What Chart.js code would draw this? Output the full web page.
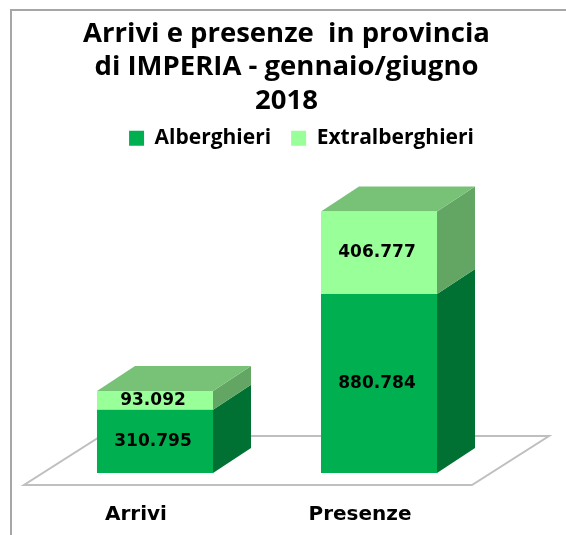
<!DOCTYPE html>
<html>
<head>
<meta charset="utf-8">
<script src="https://cdn.jsdelivr.net/npm/chart.js@4"></script>
<style>
    html, body { margin: 0; padding: 0; background: #fff; }
    canvas { display: block; }
</style>
</head>
<body>
<canvas id="chart" width="566" height="535"></canvas>
<script>
const categories = ["Arrivi", "Presenze"];
const alberghieri = [310795, 880784];
const extralberghieri = [93092, 406777];

const TITLE_LINES = ["Arrivi e presenze  in provincia", "di IMPERIA - gennaio/giugno", "2018"];
const DEPTH_X = 38;
const DEPTH_Y = 25;
const sideColors = ["#007033", "#63A563"];
const TOP_COLOR = "#78C278";

function fillPoly(ctx, color, pts) {
    ctx.fillStyle = color;
    ctx.beginPath();
    pts.forEach((p, i) => i ? ctx.lineTo(p[0], p[1]) : ctx.moveTo(p[0], p[1]));
    ctx.closePath();
    ctx.fill();
}

const box3d = {
    id: "box3d",
    afterLayout(chart) {
        // the legend sits right of the title and tight under it in the original
        chart.legend.left += 15;
        chart.legend.right += 15;
        chart.legend.top -= 10;
    },
    beforeDraw(chart) {
        const ctx = chart.ctx;
        ctx.save();
        ctx.strokeStyle = "#a6a6a6";
        ctx.lineWidth = 2;
        ctx.beginPath();
        ctx.moveTo(11, 535);
        ctx.lineTo(11, 10);
        ctx.lineTo(566, 10);
        ctx.stroke();
        ctx.restore();
    },
    beforeDatasetsDraw(chart) {
        const ctx = chart.ctx;
        const xs = chart.scales.x;
        const zero = chart.scales.y.getPixelForValue(0);
        const fy = zero + 12, by = zero - 37;
        const fl = xs.left - 19, fr = xs.right - 19;

        // floor
        ctx.save();
        ctx.strokeStyle = "#bfbfbf";
        ctx.lineWidth = 2;
        ctx.beginPath();
        ctx.moveTo(fl + 77, by);
        ctx.lineTo(fr + 77, by);
        ctx.lineTo(fr, fy);
        ctx.lineTo(fl, fy);
        ctx.closePath();
        ctx.stroke();

        // side and top faces
        chart.data.datasets.forEach((ds, d) => {
            chart.getDatasetMeta(d).data.forEach(bar => {
                const r = bar.x + bar.width / 2;
                const l = bar.x - bar.width / 2;
                fillPoly(ctx, sideColors[d], [
                    [r, bar.base], [r + DEPTH_X, bar.base - DEPTH_Y],
                    [r + DEPTH_X, bar.y - DEPTH_Y], [r, bar.y]
                ]);
                if (d === chart.data.datasets.length - 1) {
                    fillPoly(ctx, TOP_COLOR, [
                        [l, bar.y], [l + DEPTH_X, bar.y - DEPTH_Y],
                        [r + DEPTH_X, bar.y - DEPTH_Y], [r, bar.y]
                    ]);
                }
            });
        });
        ctx.restore();
    },
    afterDatasetsDraw(chart) {
        const ctx = chart.ctx;
        ctx.save();
        ctx.fillStyle = "#000";
        ctx.font = "bold 17px 'DejaVu Sans'";
        ctx.textAlign = "center";
        ctx.textBaseline = "middle";
        chart.data.datasets.forEach((ds, d) => {
            chart.getDatasetMeta(d).data.forEach((bar, i) => {
                const label = ds.data[i].toLocaleString("it-IT");
                ctx.fillText(label, bar.x - 2, (bar.y + bar.base) / 2);
            });
        });
        ctx.restore();
    }
};

new Chart(document.getElementById("chart"), {
    type: "bar",
    data: {
        labels: categories,
        datasets: [
            { label: "Alberghieri", data: alberghieri, backgroundColor: "#00B050" },
            { label: "Extralberghieri", data: extralberghieri, backgroundColor: "#99FF99" }
        ]
    },
    plugins: [box3d],
    options: {
        responsive: false,
        animation: false,
        layout: { padding: { top: 17, left: 7 } },
        datasets: { bar: { categoryPercentage: 1, barPercentage: 0.518 } },
        plugins: {
            title: {
                display: true,
                text: TITLE_LINES,
                color: "#000",
                font: { family: "'Open Sans'", size: 27.5, weight: "bold", lineHeight: 1.22 },
                padding: { top: 0, bottom: 0 }
            },
            legend: {
                display: true,
                position: "top",
                labels: {
                    color: "#000",
                    font: { family: "'Open Sans'", size: 21, weight: "bold" },
                    boxWidth: 15,
                    boxHeight: 15,
                    padding: 20
                }
            },
            tooltip: { enabled: false }
        },
        scales: {
            x: {
                stacked: true,
                grid: { display: false },
                border: { display: false },
                ticks: {
                    color: "#000",
                    padding: 22,
                    labelOffset: -19,
                    font: { family: "'DejaVu Sans'", size: 20, weight: "bold" }
                },
                afterFit(s) { s.height = 62; }
            },
            y: {
                stacked: true,
                min: 0,
                max: 1498000,
                grid: { display: false },
                border: { display: false },
                ticks: { display: false },
                afterFit(s) { s.width = 36; }
            },
            yRight: {
                position: "right",
                grid: { display: false },
                border: { display: false },
                ticks: { display: false },
                afterFit(s) { s.width = 75; }
            }
        }
    }
});
</script>
</body>
</html>
